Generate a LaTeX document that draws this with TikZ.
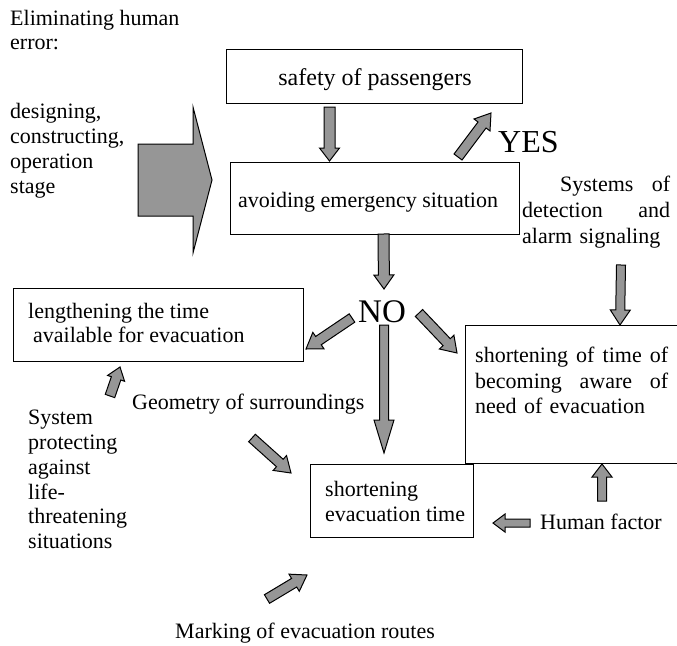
\documentclass[tikz,border=0pt]{standalone}
\usepackage{fontspec}
\setmainfont{Liberation Serif}
\usetikzlibrary{calc}
\definecolor{arrowgray}{RGB}{150,150,150}
\newcommand{\blockarrow}[5]{%
  \coordinate (ba-c) at ($(#2)!#5!(#1)$);
  \draw[barrow] ($(#1)!#3!90:(#2)$) -- ($(ba-c)!#3!90:(#2)$) -- ($(ba-c)!#4!90:(#2)$) -- (#2)
    -- ($(ba-c)!#4!-90:(#2)$) -- ($(ba-c)!#3!-90:(#2)$) -- ($(#1)!#3!-90:(#2)$) -- cycle;
}
\tikzset{
  box/.style={draw, line width=1.3pt, inner sep=0pt, anchor=north west},
  txt/.style={font=\fontsize{22}{25}\selectfont, inner sep=0pt, align=left, anchor=north west},
  lbl/.style={font=\fontsize{22}{25}\selectfont, inner sep=0pt, anchor=base west},
  big/.style={font=\fontsize{32}{36}\selectfont, inner sep=0pt, anchor=base west},
  barrow/.style={draw=black, fill=arrowgray, line width=1pt, line join=miter},
}
\begin{document}
\begin{tikzpicture}[x=1pt,y=-1pt]
\clip (0,0) rectangle (677,645);
\fill[white] (0,0) rectangle (677,645);

% boxes
\node[box, minimum width=296pt, minimum height=54pt] (safety) at (226,49) {};
\node[box, minimum width=289pt, minimum height=72pt] (avoid) at (230,162) {};
\node[box, minimum width=290pt, minimum height=73pt] (lengthen) at (13,288) {};
\node[box, minimum width=300pt, minimum height=138pt] (aware) at (464.5,325) {};
\node[box, minimum width=163pt, minimum height=73.5pt] (evac) at (310,463.5) {};

% texts
\node[txt, font=\fontsize{22}{24}\selectfont] (elim) at (10,10) {Eliminating human\\error:};
\node[txt] (stages) at (10,103) {designing,\\constructing,\\operation\\stage};
\node[lbl, anchor=base, font=\fontsize{24}{26}\selectfont] (safetytxt) at (375,85) {safety of passengers};
\node[lbl] (avoidtxt) at (238,207) {avoiding emergency situation};
\node[txt, text width=148pt, font=\fontsize{22}{26}\selectfont] (alarm) at (522,176)
  {\hspace*{38pt}Systems\hfill of\\detection\hfill and\\alarm signaling};
\node[txt, font=\fontsize{22}{24}\selectfont] (lengthtxt) at (28,303)
  {lengthening the time\\\hspace*{5pt}available for evacuation};
\node[big, font=\fontsize{33}{36}\selectfont] (no) at (358,322) {NO};
\node[big] (yes) at (498,152) {YES};
\node[lbl] (geom) at (132,409) {Geometry of surroundings};
\node[txt, font=\fontsize{22}{24.8}\selectfont] (system) at (28,410)
  {System\\protecting\\against\\life-\\threatening\\situations};
\node[txt, text width=193pt, font=\fontsize{22}{25.5}\selectfont] (awaretxt) at (475,347)
  {shortening\hfill of\hfill time\hfill of\\becoming\hfill aware\hfill of\\need of evacuation};
\node[txt] (evactxt) at (325,481) {shortening\\evacuation time};
\node[lbl] (human) at (540,529) {Human factor};
\node[lbl] (marking) at (175,638) {Marking of evacuation routes};

% arrow end points
\coordinate (bigS) at (138,180);   \coordinate (bigT) at (212,180);
\coordinate (a1S) at (329.5,107);  \coordinate (a1T) at (329.5,161);
\coordinate (a2S) at (383.5,234);  \coordinate (a2T) at (384,289);
\coordinate (yesS) at (458,157);   \coordinate (yesT) at (491,113);
\coordinate (nlS) at (352,318);    \coordinate (nlT) at (306,349);
\coordinate (nrS) at (419,313);    \coordinate (nrT) at (457,353);
\coordinate (ndS) at (384,325);    \coordinate (ndT) at (384,453);
\coordinate (alS) at (621,265);    \coordinate (alT) at (620,325);
\coordinate (syS) at (110,396);    \coordinate (syT) at (120,367);
\coordinate (geS) at (252,438);    \coordinate (geT) at (291,473);
\coordinate (huS) at (602,501);    \coordinate (huT) at (602,464);
\coordinate (hlS) at (530,523);    \coordinate (hlT) at (493,523);
\coordinate (maS) at (267,599);    \coordinate (maT) at (307,575);

% block arrows
\blockarrow{bigS}{bigT}{36pt}{73pt}{19pt}
\blockarrow{a1S}{a1T}{5.5pt}{10pt}{13pt}
\blockarrow{a2S}{a2T}{5.5pt}{10pt}{14pt}
\blockarrow{yesS}{yesT}{5pt}{10pt}{15pt}
\blockarrow{nlS}{nlT}{5pt}{10pt}{15pt}
\blockarrow{nrS}{nrT}{5pt}{10pt}{15pt}
\blockarrow{ndS}{ndT}{4.5pt}{10pt}{33pt}
\blockarrow{alS}{alT}{4.5pt}{10pt}{15pt}
\blockarrow{syS}{syT}{5pt}{9pt}{12pt}
\blockarrow{geS}{geT}{5pt}{10pt}{15pt}
\blockarrow{huS}{huT}{4.5pt}{10pt}{13pt}
\blockarrow{hlS}{hlT}{4pt}{9pt}{12pt}
\blockarrow{maS}{maT}{5pt}{10pt}{15pt}
\end{tikzpicture}
\end{document}
